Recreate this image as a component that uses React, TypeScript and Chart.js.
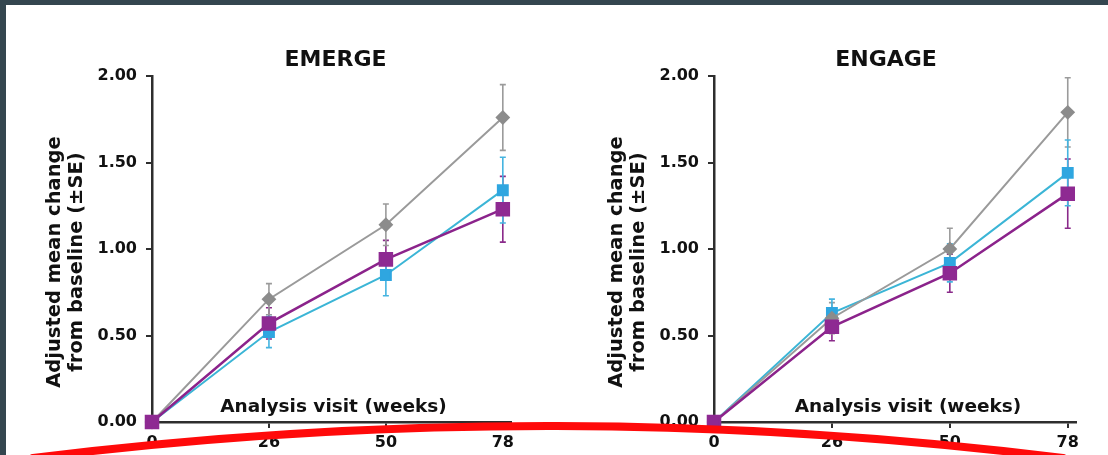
import React, { useEffect, useRef } from 'react';
import { Chart, registerables } from 'chart.js';

Chart.register(...registerables);

// ---- data ----
const weekLabels = ['0', '26', '50', '78'];
const yMin = 0;
const yMax = 2;
const yStep = 0.5;

const emergeGrey = [0, 0.71, 1.14, 1.76];
const emergeGreySE = [0, 0.09, 0.12, 0.19];
const emergePurple = [0, 0.57, 0.94, 1.23];
const emergePurpleSE = [0, 0.09, 0.11, 0.19];
const emergeCyan = [0, 0.52, 0.85, 1.34];
const emergeCyanSE = [0, 0.09, 0.12, 0.19];

const engageGrey = [0, 0.6, 1.0, 1.79];
const engageGreySE = [0, 0.09, 0.12, 0.2];
const engagePurple = [0, 0.55, 0.86, 1.32];
const engagePurpleSE = [0, 0.08, 0.11, 0.2];
const engageCyan = [0, 0.63, 0.92, 1.44];
const engageCyanSE = [0, 0.08, 0.11, 0.19];

const yTitleLines = ['Adjusted mean change', 'from baseline (±SE)'];
const xTitle = 'Analysis visit (weeks)';

// ---- styles ----
const FONT = '"DejaVu Sans", "Liberation Sans", Arial, sans-serif';
const GREY = '#9a9a9a';
const GREY_M = '#8c8c8c';
const PURPLE = '#8b238b';
const PURPLE_M = '#8e2a92';
const CYAN = '#3bb5d6';
const CYAN_M = '#2fa6e0';
const AXIS = '#2e2e2e';
const TEXT = '#111111';

type PanelProps = {
  title: string;
  grey: number[];
  greySE: number[];
  purple: number[];
  purpleSE: number[];
  cyan: number[];
  cyanSE: number[];
  left: number;
  width: number;
  yAxisWidth: number;
  padRight: number;
  titleDx: number;
  xTitleDx: number;
};

const toPts = (arr: number[]) => arr.map((v, i) => ({ x: i, y: v }));

const decorPlugin = {
  id: 'decor',
  beforeDatasetsDraw(chart: any, _args: any, opts: any) {
    const ctx = chart.ctx;
    const ys = chart.scales.y;
    chart.data.datasets.forEach((ds: any, i: number) => {
      const meta = chart.getDatasetMeta(i);
      meta.data.forEach((pt: any, j: number) => {
        const e = ds.se[j];
        if (!e) return;
        const v = ds.data[j].y;
        const y1 = ys.getPixelForValue(v + e);
        const y2 = ys.getPixelForValue(v - e);
        ctx.save();
        ctx.strokeStyle = ds.errColor;
        ctx.lineWidth = 1.6;
        ctx.beginPath();
        ctx.moveTo(pt.x, y1);
        ctx.lineTo(pt.x, y2);
        ctx.moveTo(pt.x - 3, y1);
        ctx.lineTo(pt.x + 3, y1);
        ctx.moveTo(pt.x - 3, y2);
        ctx.lineTo(pt.x + 3, y2);
        ctx.stroke();
        ctx.restore();
      });
    });
  },
  afterDraw(chart: any, _args: any, opts: any) {
    const ctx = chart.ctx;
    const a = chart.chartArea;
    const cx = (a.left + a.right) / 2;
    ctx.save();
    ctx.fillStyle = TEXT;
    // panel title
    ctx.font = `bold 22px ${FONT}`;
    ctx.textAlign = 'center';
    ctx.textBaseline = 'alphabetic';
    ctx.fillText(opts.title, cx + opts.titleDx, 66);
    // x title inside plot
    ctx.font = `bold 18.5px ${FONT}`;
    ctx.fillText(opts.xTitle, cx + opts.xTitleDx, a.bottom - 10);
    // y title
    ctx.font = `bold 19.5px ${FONT}`;
    ctx.textBaseline = 'middle';
    const yc = (a.top + a.bottom) / 2 + 13;
    const xs = [a.left - 97, a.left - 75];
    opts.yTitle.forEach((line: string, k: number) => {
      ctx.save();
      ctx.translate(xs[k], yc);
      ctx.rotate(-Math.PI / 2);
      ctx.fillText(line, 0, 0);
      ctx.restore();
    });
    // red hand-drawn annotation arc (page coordinates)
    const off = opts.offsetX;
    ctx.strokeStyle = '#ff0a0a';
    ctx.lineWidth = 8;
    ctx.lineCap = 'round';
    ctx.beginPath();
    ctx.moveTo(33 - off, 458);
    ctx.quadraticCurveTo(548 - off, 394, 1063 - off, 458);
    ctx.stroke();
    ctx.restore();
  },
};

function Panel(p: PanelProps) {
  const ref = useRef<HTMLCanvasElement | null>(null);
  useEffect(() => {
    if (!ref.current) return;
    const chart = new Chart(ref.current, {
      type: 'line',
      data: {
        datasets: [
          {
            label: 'Purple series',
            data: toPts(p.purple),
            se: p.purpleSE,
            errColor: '#8a2a8a',
            borderColor: PURPLE,
            backgroundColor: PURPLE_M,
            pointBackgroundColor: PURPLE_M,
            pointBorderColor: PURPLE_M,
            pointStyle: 'rect',
            pointRadius: 8.5,
            borderWidth: 2.5,
            tension: 0,
            clip: false,
          } as any,
          {
            label: 'Grey series',
            data: toPts(p.grey),
            se: p.greySE,
            errColor: '#9b9b9b',
            borderColor: GREY,
            backgroundColor: GREY_M,
            pointBackgroundColor: GREY_M,
            pointBorderColor: GREY_M,
            pointStyle: 'rectRot',
            pointRadius: 6,
            borderWidth: 2,
            tension: 0,
            clip: false,
          } as any,
          {
            label: 'Cyan series',
            data: toPts(p.cyan),
            se: p.cyanSE,
            errColor: '#45b4e0',
            borderColor: CYAN,
            backgroundColor: CYAN_M,
            pointBackgroundColor: CYAN_M,
            pointBorderColor: CYAN_M,
            pointStyle: 'rect',
            pointRadius: 7,
            borderWidth: 2,
            tension: 0,
            clip: false,
          } as any,
        ],
      },
      options: {
        responsive: false,
        animation: false,
        events: [],
        layout: { padding: { top: 76, right: p.padRight, bottom: 0, left: 0 } },
        plugins: {
          legend: { display: false },
          title: { display: false },
          tooltip: { enabled: false },
          decor: {
            title: p.title,
            titleDx: p.titleDx,
            xTitle,
            xTitleDx: p.xTitleDx,
            yTitle: yTitleLines,
            offsetX: p.left,
          },
        } as any,
        scales: {
          x: {
            type: 'linear',
            min: 0,
            max: weekLabels.length - 1 + 0.07,
            afterFit: (s: any) => {
              s.height = 33;
            },
            border: { display: true, color: AXIS, width: 2.5 },
            grid: {
              drawOnChartArea: false,
              drawTicks: true,
              tickLength: 6,
              color: AXIS,
              lineWidth: 2,
            },
            ticks: {
              stepSize: 1,
              includeBounds: false,
              autoSkip: false,
              maxRotation: 0,
              padding: 5,
              color: TEXT,
              font: { family: FONT, size: 16, weight: 'bold' },
              callback: (v: any) => weekLabels[v as number] ?? '',
            },
          },
          y: {
            type: 'linear',
            min: yMin,
            max: yMax,
            afterFit: (s: any) => {
              s.width = p.yAxisWidth;
            },
            border: { display: true, color: AXIS, width: 2.5 },
            grid: {
              drawOnChartArea: false,
              drawTicks: true,
              tickLength: 6,
              color: AXIS,
              lineWidth: 2,
            },
            ticks: {
              stepSize: yStep,
              padding: 9,
              color: TEXT,
              font: { family: FONT, size: 16, weight: 'bold' },
              callback: (v: any) => Number(v).toFixed(2),
            },
          },
        },
      } as any,
      plugins: [decorPlugin],
    });
    return () => chart.destroy();
  }, []);
  return (
    <canvas
      ref={ref}
      width={p.width}
      height={455}
      style={{ position: 'absolute', left: p.left, top: 0, display: 'block' }}
    />
  );
}

export default function App() {
  return (
    <div
      style={{
        position: 'absolute',
        left: 0,
        top: 0,
        width: 1108,
        height: 455,
        overflow: 'hidden',
        background: '#34464f',
      }}
    >
      <div
        style={{
          position: 'absolute',
          left: 6,
          top: 5,
          right: 0,
          bottom: 0,
          background: '#ffffff',
        }}
      />
      <Panel
        title="EMERGE"
        grey={emergeGrey}
        greySE={emergeGreySE}
        purple={emergePurple}
        purpleSE={emergePurpleSE}
        cyan={emergeCyan}
        cyanSE={emergeCyanSE}
        left={0}
        width={556}
        yAxisWidth={152}
        padRight={45}
        titleDx={4}
        xTitleDx={2}
      />
      <Panel
        title="ENGAGE"
        grey={engageGrey}
        greySE={engageGreySE}
        purple={engagePurple}
        purpleSE={engagePurpleSE}
        cyan={engageCyan}
        cyanSE={engageCyanSE}
        left={556}
        width={552}
        yAxisWidth={158}
        padRight={32}
        titleDx={-9}
        xTitleDx={13}
      />
    </div>
  );
}
